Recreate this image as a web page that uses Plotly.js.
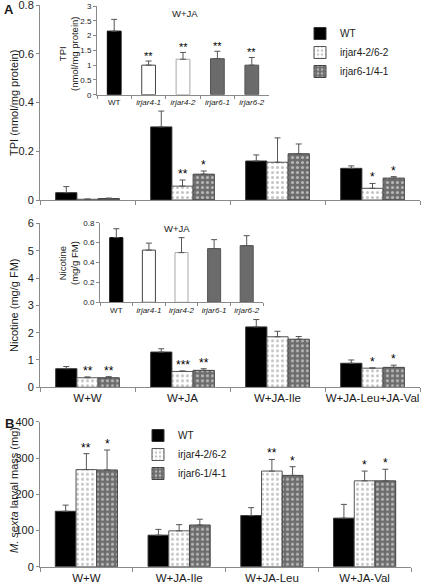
<!DOCTYPE html>
<html><head><meta charset="utf-8">
<script src="https://cdn.plot.ly/plotly-3.0.1.min.js"></script>
<style>html,body{margin:0;padding:0;background:#fff}#chart{width:430px;height:584px}</style>
</head><body><div id="chart"></div>
<script>
// ---------- data ----------
const groupsA = ['W+W', 'W+JA', 'W+JA-Ile', 'W+JA-Leu+JA-Val'];
const groupsB = ['W+W', 'W+JA-Ile', 'W+JA-Leu', 'W+JA-Val'];
const seriesNames = ['WT', 'irjar4-2/6-2', 'irjar6-1/4-1'];

const tpiWT = [0.03, 0.30, 0.16, 0.13];
const tpiWTErr = [0.025, 0.065, 0.025, 0.01];
const tpiIr4 = [0.003, 0.057, 0.155, 0.048];
const tpiIr4Err = [0.001, 0.025, 0.10, 0.02];
const tpiIr6 = [0.006, 0.106, 0.19, 0.09];
const tpiIr6Err = [0.002, 0.013, 0.04, 0.006];
const tpiSigIr4 = ['', '**', '', '*'];
const tpiSigIr6 = ['', '*', '', '*'];

const nicWT = [0.68, 1.29, 2.21, 0.88];
const nicWTErr = [0.08, 0.12, 0.27, 0.12];
const nicIr4 = [0.35, 0.58, 1.85, 0.70];
const nicIr4Err = [0.03, 0.02, 0.20, 0.01];
const nicIr6 = [0.35, 0.62, 1.76, 0.73];
const nicIr6Err = [0.04, 0.06, 0.10, 0.08];
const nicSigIr4 = ['**', '***', '', '*'];
const nicSigIr6 = ['**', '**', '', '*'];

const massWT = [153, 87, 141, 134];
const massWTErr = [17, 16, 22, 38];
const massIr4 = [268, 99, 264, 237];
const massIr4Err = [44, 17, 32, 27];
const massIr6 = [267, 115, 252, 237];
const massIr6Err = [55, 16, 24, 32];
const massSigIr4 = ['**', '', '**', '*'];
const massSigIr6 = ['*', '', '*', '*'];

const insetCats = ['WT', 'irjar4-1', 'irjar4-2', 'irjar6-1', 'irjar6-2'];
const insetTpi = [2.15, 1.0, 1.2, 1.22, 1.0];
const insetTpiErr = [0.4, 0.14, 0.23, 0.25, 0.26];
const insetTpiSig = ['', '**', '**', '**', '**'];
const insetNic = [0.65, 0.525, 0.50, 0.54, 0.57];
const insetNicErr = [0.09, 0.07, 0.15, 0.09, 0.10];

// ---------- styles ----------
const W = 430, H = 584;
const FONT = 'Liberation Sans, Arial, sans-serif';
const TXT = '#1a1a1a';
const AX = '#8a8a8a';
const px = v => v / W;
const py = v => 1 - v / H;

const styles = [
  {color: '#000', line: {color: '#333', width: 1}},
  {color: '#fff', line: {color: '#555', width: 1},
   pattern: {shape: '.', bgcolor: '#fff', fgcolor: '#8c8c8c', size: 5, solidity: 0.3, fillmode: 'overlay'}},
  {color: '#6d6d6d', line: {color: '#444', width: 1},
   pattern: {shape: '.', bgcolor: '#6d6d6d', fgcolor: '#fff', size: 5, solidity: 0.3, fillmode: 'overlay'}}
];

function errUp(arr) {
  return {type: 'data', array: arr, arrayminus: arr.map(() => 0), symmetric: false,
          color: '#555', thickness: 1, width: 3};
}

const traces = [];
function addPanel(cats, vals, errs, xa, ya, legendName, showLeg) {
  vals.forEach((v, i) => {
    traces.push({
      type: 'bar', x: cats, y: v, name: seriesNames[i],
      xaxis: xa, yaxis: ya, marker: styles[i], error_y: errUp(errs[i]),
      showlegend: showLeg, legend: legendName, hoverinfo: 'skip'
    });
  });
}
addPanel(groupsA, [tpiWT, tpiIr4, tpiIr6], [tpiWTErr, tpiIr4Err, tpiIr6Err], 'x', 'y', 'legend', true);
addPanel(groupsA, [nicWT, nicIr4, nicIr6], [nicWTErr, nicIr4Err, nicIr6Err], 'x2', 'y2', 'legend', false);
addPanel(groupsB, [massWT, massIr4, massIr6], [massWTErr, massIr4Err, massIr6Err], 'x3', 'y3', 'legend2', true);

const insetColors = ['#000', '#fff', '#fff', '#6b6b6b', '#6b6b6b'];
const insetLines = ['#000', '#444', '#a8a8a8', '#555', '#555'];
function addInset(vals, errs, xa, ya) {
  traces.push({
    type: 'bar', x: insetCats, y: vals, xaxis: xa, yaxis: ya, width: 0.4,
    marker: {color: insetColors, line: {color: insetLines, width: 1}},
    error_y: errUp(errs), showlegend: false, hoverinfo: 'skip'
  });
}
addInset(insetTpi, insetTpiErr, 'x4', 'y4');
addInset(insetNic, insetNicErr, 'x5', 'y5');

// ---------- annotations ----------
const annotations = [];
const bw = (1 - 0.33) / 3;
function stars(sig, vals, errs, offset, xref, yref, size) {
  sig.forEach((s, i) => {
    if (!s) return;
    annotations.push({xref: xref, yref: yref, x: i + offset, y: vals[i] + errs[i],
      text: s, showarrow: false, yanchor: 'bottom', xanchor: 'center', yshift: -3,
      font: {size: size, color: '#000'}});
  });
}
stars(tpiSigIr4, tpiIr4, tpiIr4Err, 0, 'x', 'y', 12);
stars(tpiSigIr6, tpiIr6, tpiIr6Err, bw, 'x', 'y', 12);
stars(nicSigIr4, nicIr4, nicIr4Err, 0, 'x2', 'y2', 12);
stars(nicSigIr6, nicIr6, nicIr6Err, bw, 'x2', 'y2', 12);
stars(massSigIr4, massIr4, massIr4Err, 0, 'x3', 'y3', 12);
stars(massSigIr6, massIr6, massIr6Err, bw, 'x3', 'y3', 12);
stars(insetTpiSig, insetTpi, insetTpiErr, 0, 'x4', 'y4', 11);

function txt(x, y, text, size, extra) {
  annotations.push(Object.assign({xref: 'paper', yref: 'paper', x: px(x), y: py(y), text: text,
    showarrow: false, xanchor: 'center', yanchor: 'middle', font: {size: size, color: TXT}}, extra || {}));
}
txt(9, 10, '<b>A</b>', 13);
txt(9, 423, '<b>B</b>', 13);
txt(14, 103, 'TPI (nmol/mg protein)', 11, {textangle: -90});
txt(14, 305, 'Nicotine (mg/g FM)', 11, {textangle: -90});
txt(14, 490, '<i>M. sexta</i> larval mass (mg)', 11, {textangle: -90});
txt(68, 54, 'TPI<br>(nmol/mg protein)', 9.5, {textangle: -90});
txt(68, 263, 'Nicotine<br>(mg/g FM)', 9.5, {textangle: -90});
txt(185, 14, 'W+JA', 9.5);
txt(177, 229, 'W+JA', 9.5);

// ---------- axes ----------
function xAx(domain, anchor, labels, cats, size) {
  return {domain: domain, anchor: anchor, type: 'category', categoryorder: 'array',
    categoryarray: cats, range: [-0.5, cats.length - 0.5], showline: true, linecolor: AX, linewidth: 1,
    ticks: 'outside', tickson: 'boundaries', ticklen: 4, tickcolor: AX, showgrid: false, zeroline: false,
    showticklabels: labels, tickangle: 0, ticklabeloverflow: 'allow',
    tickfont: {size: size, color: TXT}, fixedrange: true};
}
function yAx(domain, anchor, range, dtick, size, fmt) {
  const a = {domain: domain, anchor: anchor, range: range, dtick: dtick, tick0: 0, showline: true, linecolor: AX,
    linewidth: 1, ticks: 'outside', ticklen: 3, tickcolor: AX, showgrid: false, zeroline: false,
    ticklabeloverflow: 'allow', tickfont: {size: size, color: TXT}, fixedrange: true};
  if (fmt) a.tickformat = fmt;
  return a;
}

const insetTickText = insetCats.map(c => c === 'WT' ? c : '<i>' + c + '</i>');
const insetX4 = xAx([px(97), px(269)], 'y4', true, insetCats, 8);
insetX4.tickvals = insetCats; insetX4.ticktext = insetTickText; insetX4.ticklen = 3;
const insetX5 = xAx([px(100), px(263)], 'y5', true, insetCats, 8);
insetX5.tickvals = insetCats; insetX5.ticktext = insetTickText; insetX5.ticklen = 3;

const layout = {
  width: W, height: H, margin: {l: 0, r: 0, t: 0, b: 0},
  paper_bgcolor: '#fff', plot_bgcolor: 'rgba(0,0,0,0)',
  font: {family: FONT, color: TXT},
  barmode: 'group', bargap: 0.33, bargroupgap: 0,
  xaxis: xAx([px(40), px(420)], 'y', false, groupsA, 11.5),
  yaxis: yAx([py(200), py(5)], 'x', [0, 0.8005], 0.2, 11),
  xaxis2: xAx([px(40), px(420)], 'y2', true, groupsA, 11.5),
  yaxis2: yAx([py(387.3), py(223.3)], 'x2', [0, 6.003], 1, 11),
  xaxis3: xAx([px(40), px(411)], 'y3', true, groupsB, 11.5),
  yaxis3: yAx([py(566.7), py(421.7)], 'x3', [0, 400.2], 100, 11),
  xaxis4: insetX4,
  yaxis4: yAx([py(94.7), py(6)], 'x4', [0, 3.002], 0.5, 8),
  xaxis5: insetX5,
  yaxis5: yAx([py(302.3), py(222.7)], 'x5', [0, 0.8005], 0.2, 8, '.1f'),
  legend: {x: px(300), y: py(19), xanchor: 'left', yanchor: 'top', bgcolor: 'rgba(0,0,0,0)',
    font: {size: 10, color: TXT}, itemclick: false, itemdoubleclick: false},
  legend2: {x: px(138), y: py(421), xanchor: 'left', yanchor: 'top', bgcolor: 'rgba(0,0,0,0)',
    font: {size: 10, color: TXT}, itemclick: false, itemdoubleclick: false},
  annotations: annotations,
  showlegend: true
};

Plotly.newPlot('chart', traces, layout, {displayModeBar: false, staticPlot: true});
</script></body></html>
